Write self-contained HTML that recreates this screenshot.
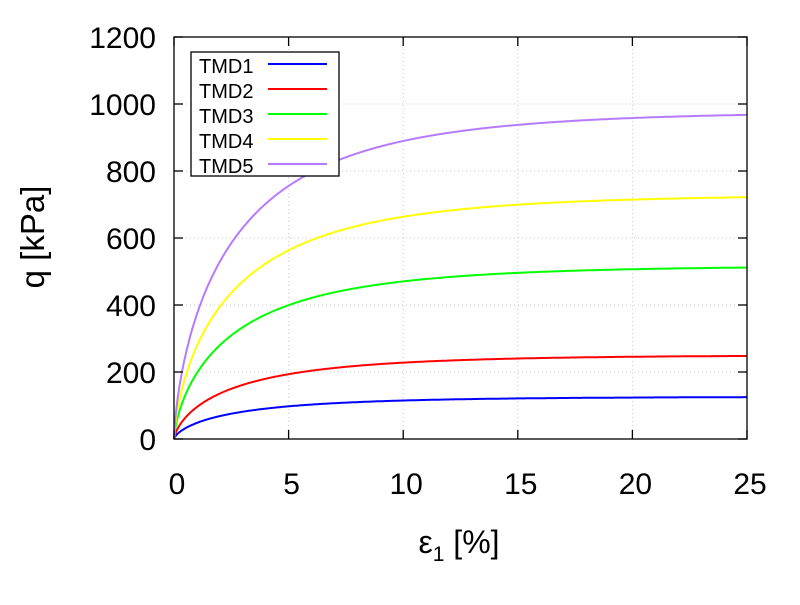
<!DOCTYPE html>
<html><head><meta charset="utf-8"><style>
body{margin:0;background:#fff}
svg text{font-family:"Liberation Sans",sans-serif;fill:#000}
</style></head><body>
<svg id="s" width="800" height="600" xmlns="http://www.w3.org/2000/svg">
<rect width="800" height="600" fill="#fff"/>
<g id="grid" stroke="#c8c8c8" stroke-width="1" stroke-dasharray="1,3"></g>
<g id="curves" fill="none" stroke-width="2"></g>
<rect x="174" y="37" width="573" height="402" fill="none" stroke="#000" stroke-width="1.3"/>
<g id="ticks" stroke="#000" stroke-width="1.3"></g>
<g id="labels" font-size="30"></g>
<text x="0" y="0" font-size="33" text-anchor="middle" transform="translate(44,237) rotate(-90)">q [kPa]</text>
<text x="459" y="553" font-size="32" text-anchor="middle">ε<tspan font-size="21" dy="8">1</tspan><tspan dy="-8"> [%]</tspan></text>
<rect x="191" y="52" width="148" height="124" fill="#fff" stroke="#000" stroke-width="1.3"/>
<g font-size="20">
<text x="199" y="73">TMD1</text><line x1="268" y1="64" x2="327" y2="64" stroke="#0000ff" stroke-width="2"/>
<text x="199" y="98">TMD2</text><line x1="268" y1="89" x2="327" y2="89" stroke="#ff0000" stroke-width="2"/>
<text x="199" y="123">TMD3</text><line x1="268" y1="114" x2="327" y2="114" stroke="#00ff00" stroke-width="2"/>
<text x="199" y="148">TMD4</text><line x1="268" y1="139" x2="327" y2="139" stroke="#ffff00" stroke-width="2"/>
<text x="199" y="173">TMD5</text><line x1="268" y1="164" x2="327" y2="164" stroke="#b57bff" stroke-width="2"/>
</g>
</svg>
<script>
var ns="http://www.w3.org/2000/svg";
function X(v){return 174+v*573/25}
function Y(v){return 439-v*402/1200}
function el(p,t,a,txt){var e=document.createElementNS(ns,t);for(var k in a)e.setAttribute(k,a[k]);if(txt!=null)e.textContent=txt;document.getElementById(p).appendChild(e);}
for(var i=1;i<5;i++){el("grid","line",{x1:X(i*5),y1:37,x2:X(i*5),y2:439});}
for(var j=1;j<6;j++){el("grid","line",{x1:174,y1:Y(j*200),x2:747,y2:Y(j*200)});}
for(var i=0;i<=5;i++){var x=X(i*5);el("ticks","line",{x1:x,y1:439,x2:x,y2:430});el("ticks","line",{x1:x,y1:37,x2:x,y2:46});
el("labels","text",{x:x+3,y:494,"text-anchor":"middle"},String(i*5));}
for(var j=0;j<=6;j++){var y=Y(j*200);el("ticks","line",{x1:174,y1:y,x2:183,y2:y});el("ticks","line",{x1:747,y1:y,x2:738,y2:y});
el("labels","text",{x:156,y:y+11,"text-anchor":"end"},String(j*200));}
function s(x){return (1-Math.exp(-0.48*Math.pow(x,0.7)))/0.99;}
var series=[[125,"#0000ff"],[248,"#ff0000"],[512,"#00ff00"],[722,"#ffff00"],[968,"#b57bff"]];
series.forEach(function(sr){var d="";for(var x=0;x<=25.001;x+=0.05){d+=(d?"L":"M")+X(x).toFixed(1)+","+Y(sr[0]*Math.min(s(x),1)).toFixed(1);}
el("curves","path",{d:d,stroke:sr[1]});});
</script>
</body></html>
